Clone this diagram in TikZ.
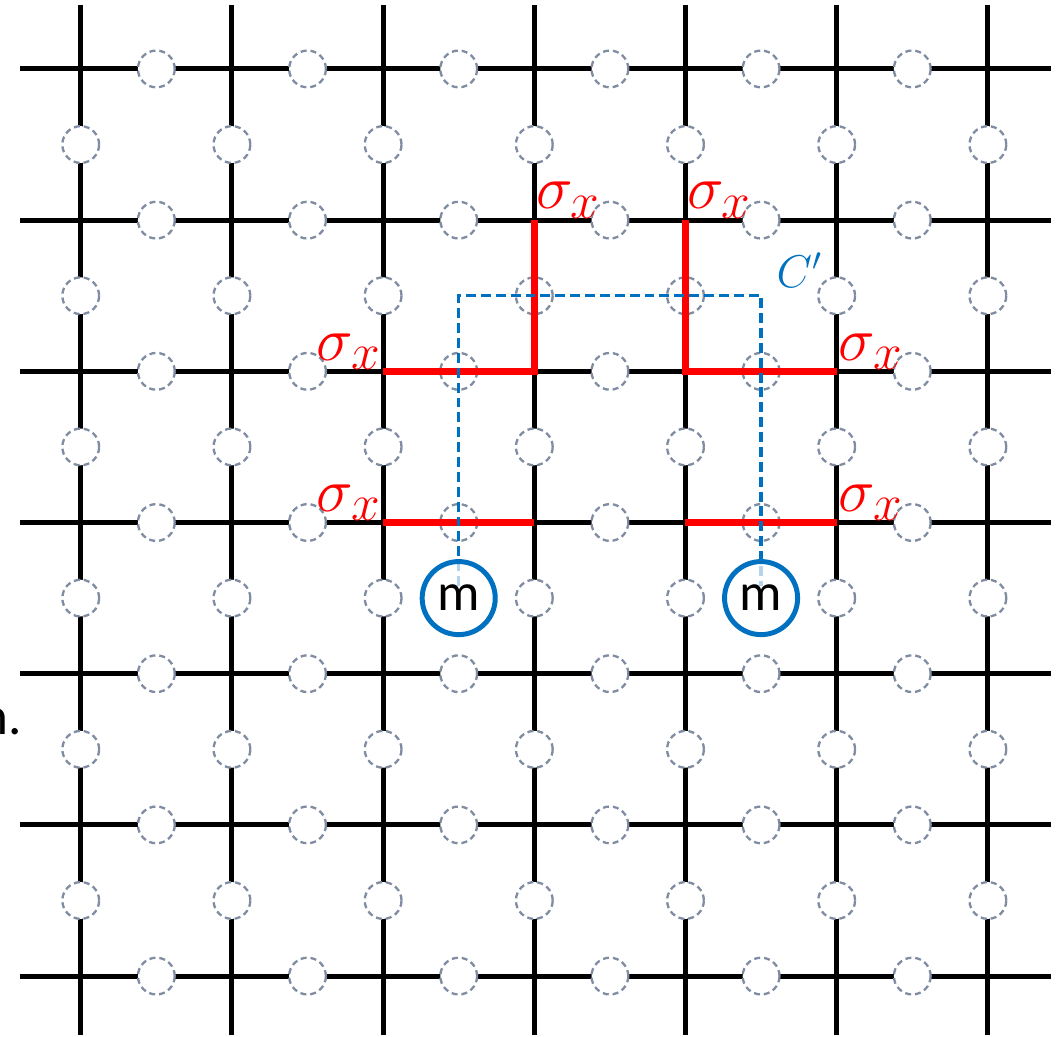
\documentclass[tikz,border=0pt]{standalone}
\usepackage{fontspec}
\newfontfamily\mfont{Carlito}
\usetikzlibrary{positioning}
\definecolor{latgray}{RGB}{128,140,162}
\definecolor{mblue}{RGB}{0,112,192}
\definecolor{xred}{RGB}{255,0,0}
\tikzset{
  latline/.style={line width=2.8pt, black},
  qubit/.style={circle, draw=latgray, fill=white, line width=1.3pt,
                dash pattern=on 3.4pt off 2.2pt, minimum size=0.73cm, inner sep=0pt},
  xedge/.style={line width=4.1pt, color=xred},
  cpath/.style={line width=1.8pt, color=mblue, dash pattern=on 5.6pt off 2.8pt},
  meas/.style={circle, draw=mblue, line width=2.8pt, fill=white, fill opacity=0.7,
               text opacity=1, minimum size=1.45cm, inner sep=0pt,
               font=\mfont\fontsize{30}{33}\selectfont},
  xlabel/.style={text=xred, inner sep=0.6pt, scale=1.4,
                 font=\fontsize{24.88}{28}\selectfont},
}

\begin{document}
\begin{tikzpicture}[x=3cm, y=-3cm]
  \useasboundingbox (-0.534,-0.456) rectangle (6.497,6.402);
  % lattice
  \foreach \i in {0,...,6}{
    \draw[latline] (\i,-0.423) -- (\i,6.389);
    \draw[latline] (-0.402,\i) -- (6.417,\i);
  }
  \foreach \i in {0,...,6}{
    \foreach \j in {0,...,6}{
      \coordinate (v\i\j) at (\i,\j);
    }
  }
  % qubits on the edges
  \foreach \i in {0,...,5}{
    \foreach \j in {0,...,6}{
      \node[qubit] (qh\i\j) at (\i+0.5,\j) {};
      \node[qubit] (qv\j\i) at (\j,\i+0.5) {};
    }
  }
  % sigma_x string
  \draw[xedge] (v31) -- (v32) -- (v22);
  \draw[xedge] (v23) -- (v33);
  \draw[xedge] (v41) -- (v42) -- (v52);
  \draw[xedge] (v43) -- (v53);
  % dual path C'
  \coordinate (ctop) at (3.5,1.5);
  \coordinate (mlin) at (2.5,3.42);
  \coordinate (mrin) at (4.5,3.42);
  \draw[cpath] (mlin) |- (ctop) -| (mrin);
  \node[meas] (ml) at (2.5,3.5) {m};
  \node[meas] (mr) at (4.5,3.5) {m};
  \node[text=mblue, anchor=west, inner sep=0pt, scale=1.25,
        font=\fontsize{20.74}{24}\selectfont] (clabel) at (4.6,1.33) {$C'$};
  % labels
  \node[xlabel, anchor=south west] (s1) at (v31) {$\sigma_x$};
  \node[xlabel, anchor=south west] (s2) at (v41) {$\sigma_x$};
  \node[xlabel, anchor=south east] (s3) at (v22) {$\sigma_x$};
  \node[xlabel, anchor=south west] (s4) at (v52) {$\sigma_x$};
  \node[xlabel, anchor=south east] (s5) at (v23) {$\sigma_x$};
  \node[xlabel, anchor=south west] (s6) at (v53) {$\sigma_x$};
  \node[anchor=base east, inner sep=0pt, font=\mfont\fontsize{30}{33}\selectfont]
    (cut) at (-0.388,4.405) {n.};
\end{tikzpicture}
\end{document}
